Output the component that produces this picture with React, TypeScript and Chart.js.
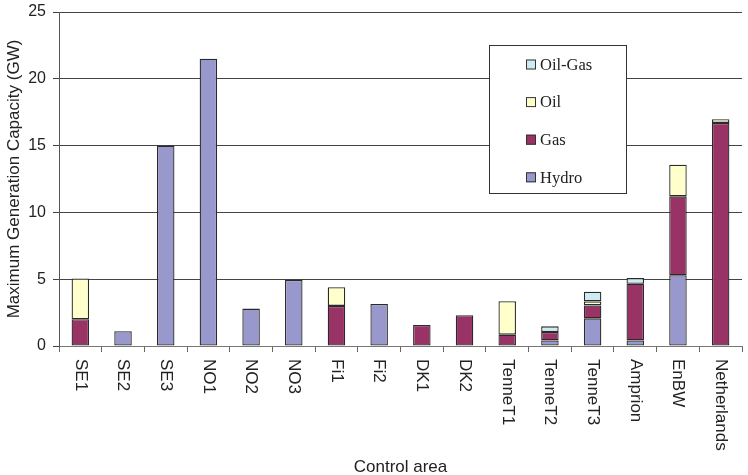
import React, { useEffect, useRef } from "react";
import { Chart, registerables } from "chart.js";
Chart.register(...registerables);

const categories = ["SE1", "SE2", "SE3", "NO1", "NO2", "NO3", "Fi1", "Fi2", "DK1", "DK2", "TenneT1", "TenneT2", "TenneT3", "Amprion", "EnBW", "Netherlands"];
const hydro = [null, 1.1, 15.0, 21.5, 2.8, 4.95, null, 3.15, null, null, null, 0.42, 2.07, 0.42, 5.3, null];
const gas = [2.0, null, null, null, null, null, 3.0, null, 1.57, 2.3, 0.85, 0.63, 0.97, 4.24, 5.9, 16.7];
const oil = [3.05, null, null, null, null, null, 1.4, null, null, null, 2.5, null, 0.3, null, 2.37, 0.27];
const oilGas = [null, null, null, null, null, null, null, null, null, null, null, 0.42, 0.72, 0.43, null, null];
const yMax = 25;
const yStep = 5;

const SANS = '"Liberation Sans", Arial, sans-serif';
const SERIF = '"Liberation Serif", "Times New Roman", serif';

const xLabelPlugin = {
  id: "xLabels",
  afterDraw(chart: any) {
    const ctx = chart.ctx;
    const xs = chart.scales.x;
    const top = chart.chartArea.bottom + 13;
    ctx.save();
    ctx.fillStyle = "#222";
    ctx.font = `17px ${SANS}`;
    ctx.textAlign = "left";
    ctx.textBaseline = "middle";
    chart.data.labels.forEach((lab: string, i: number) => {
      const x = xs.getPixelForTick(i);
      ctx.save();
      ctx.translate(x, top);
      ctx.rotate(Math.PI / 2);
      ctx.fillText(lab, 0, 0);
      ctx.restore();
    });
    ctx.restore();
  },
};

const legendPlugin = {
  id: "boxLegend",
  afterDraw(chart: any) {
    const ctx = chart.ctx;
    const x0 = 489.5, y0 = 45.5, w = 137, h = 148;
    ctx.save();
    ctx.fillStyle = "#fff";
    ctx.fillRect(x0, y0, w, h);
    ctx.strokeStyle = "#333";
    ctx.lineWidth = 1;
    ctx.strokeRect(x0, y0, w, h);
    const ds = chart.data.datasets.slice().reverse();
    ctx.font = `16.5px ${SERIF}`;
    ctx.textBaseline = "middle";
    ctx.textAlign = "left";
    ds.forEach((d: any, i: number) => {
      const cy = 64.5 + i * 37.6;
      ctx.fillStyle = d.backgroundColor;
      ctx.fillRect(526, cy - 5, 10, 10);
      ctx.strokeStyle = "#333";
      ctx.strokeRect(526.5, cy - 4.5, 9, 9);
      ctx.fillStyle = "#222";
      ctx.fillText(d.label, 540, cy + 1);
    });
    ctx.restore();
  },
};

function App() {
  const ref = useRef<HTMLCanvasElement | null>(null);
  useEffect(() => {
    document.body.style.margin = "0";
    const mk = (label: string, data: any[], color: string) => ({
      label,
      data,
      backgroundColor: color,
      borderColor: "#2a2a2a",
      borderWidth: 1.3,
      borderSkipped: false,
      categoryPercentage: 1,
      barPercentage: 0.41,
    });
    const chart = new Chart(ref.current as HTMLCanvasElement, {
      type: "bar",
      data: {
        labels: categories,
        datasets: [
          mk("Hydro", hydro, "#9898CC"),
          mk("Gas", gas, "#993366"),
          mk("Oil", oil, "#FFFFCC"),
          mk("Oil-Gas", oilGas, "#CCECF2"),
        ],
      },
      options: {
        animation: false,
        responsive: false,
        devicePixelRatio: 1,
        layout: { padding: { top: 12, right: 6, left: 0, bottom: 0 } },
        plugins: { legend: { display: false }, tooltip: { enabled: false } },
        scales: {
          x: {
            stacked: true,
            offset: true,
            grid: { display: true, drawOnChartArea: false, drawTicks: true, tickLength: 6, color: "#666", offset: true },
            border: { display: true, color: "#777", width: 1 },
            ticks: { display: false },
            title: { display: true, text: "Control area", font: { family: SANS, size: 17 }, color: "#222", padding: { top: 0, bottom: -3 } },
            afterFit: (s: any) => { s.height = 129; s.paddingLeft = 0; s.paddingRight = 0; },
          },
          y: {
            stacked: true,
            min: 0,
            max: yMax,
            ticks: { stepSize: yStep, font: { family: SANS, size: 16 }, color: "#222", padding: 7 },
            grid: { color: "#444", tickLength: 6, drawTicks: true },
            border: { display: true, color: "#555", width: 1 },
            title: { display: true, text: "Maximum Generation Capacity (GW)", font: { family: SANS, size: 17 }, color: "#222", padding: { top: 4, bottom: 0 } },
            afterFit: (s: any) => { s.width = 59; s.paddingTop = 0; s.paddingBottom = 0; },
          },
        },
      },
      plugins: [xLabelPlugin, legendPlugin],
    } as any);
    return () => chart.destroy();
  }, []);
  return (
    <div style={{ width: 748, height: 475 }}>
      <canvas ref={ref} width={748} height={475} style={{ display: "block" }} />
    </div>
  );
}

export default App;
